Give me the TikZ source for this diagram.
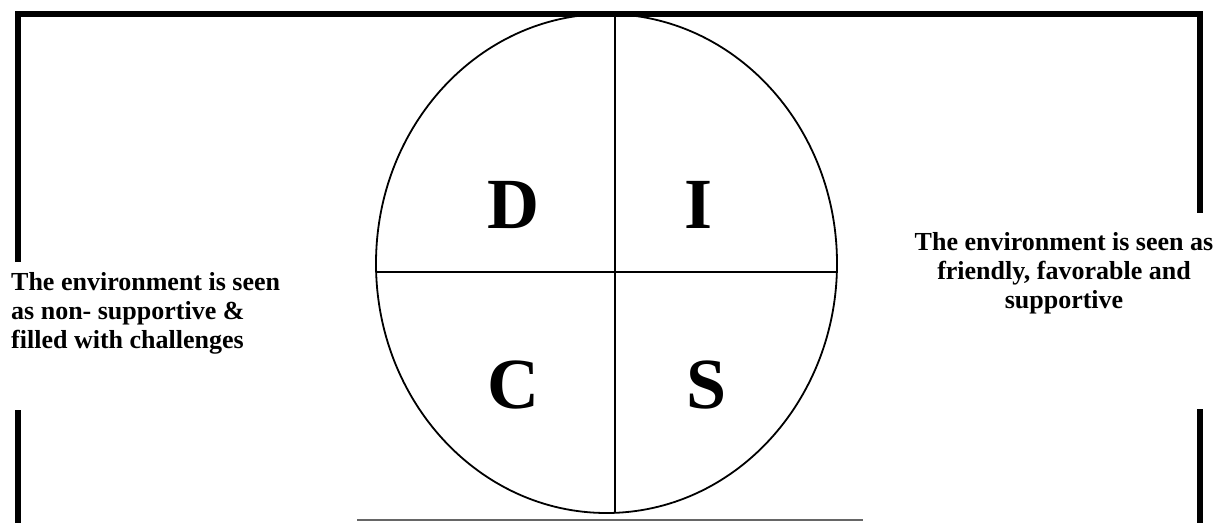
\documentclass[tikz,border=0pt]{standalone}
\usepackage{fontspec}
\setmainfont{Liberation Serif}
\usetikzlibrary{shapes.geometric}
\begin{document}
\begin{tikzpicture}[x=1pt,y=-1pt,
  frame/.style={line width=5.5pt, line join=miter},
  quad/.style={line width=1.8pt},
  letter/.style={font=\fontsize{72}{78}\selectfont\bfseries, inner sep=0pt},
  desc/.style={font=\fontsize{26}{29}\selectfont\bfseries, inner sep=0pt}]
\useasboundingbox (0,0) rectangle (1222,523);
% frame
\coordinate (tl) at (18,14);
\coordinate (tr) at (1200,14);
\coordinate (lb1) at (18,262);
\coordinate (lb2) at (18,410);
\coordinate (lbot) at (18,523);
\coordinate (rb1) at (1200,213);
\coordinate (rb2) at (1200,409);
\coordinate (rbot) at (1200,523);
\draw[frame] (lb1) -- (tl) -- (tr) -- (rb1);
\draw[frame] (lb2) -- (lbot);
\draw[frame] (rb2) -- (rbot);
% circle
\node[draw, ellipse, quad, minimum width=461pt, minimum height=499pt, inner sep=0pt] (circ) at (606.5,263.5) {};
\coordinate (vt) at (615,14);
\coordinate (vb) at (615,513);
\coordinate (hl) at (376,272);
\coordinate (hr) at (837,272);
\draw[quad] (vt) -- (vb);
\draw[quad] (hl) -- (hr);
% bottom line
\coordinate (bl) at (357,520);
\coordinate (br) at (863,520);
\draw[black!60, line width=1.5pt] (bl) -- (br);
% letters
\node[letter] (D) at (513,205) {D};
\node[letter] (I) at (698,205) {I};
\node[letter] (C) at (513,385) {C};
\node[letter] (S) at (707,385) {S};
% texts
\node[desc, align=left, anchor=west] (lt) at (11,313) {The environment is seen\\as non- supportive \&\\filled with challenges};
\node[desc, align=center] (rt) at (1064,273) {The environment is seen as\\friendly, favorable and\\supportive};
\end{tikzpicture}
\end{document}
